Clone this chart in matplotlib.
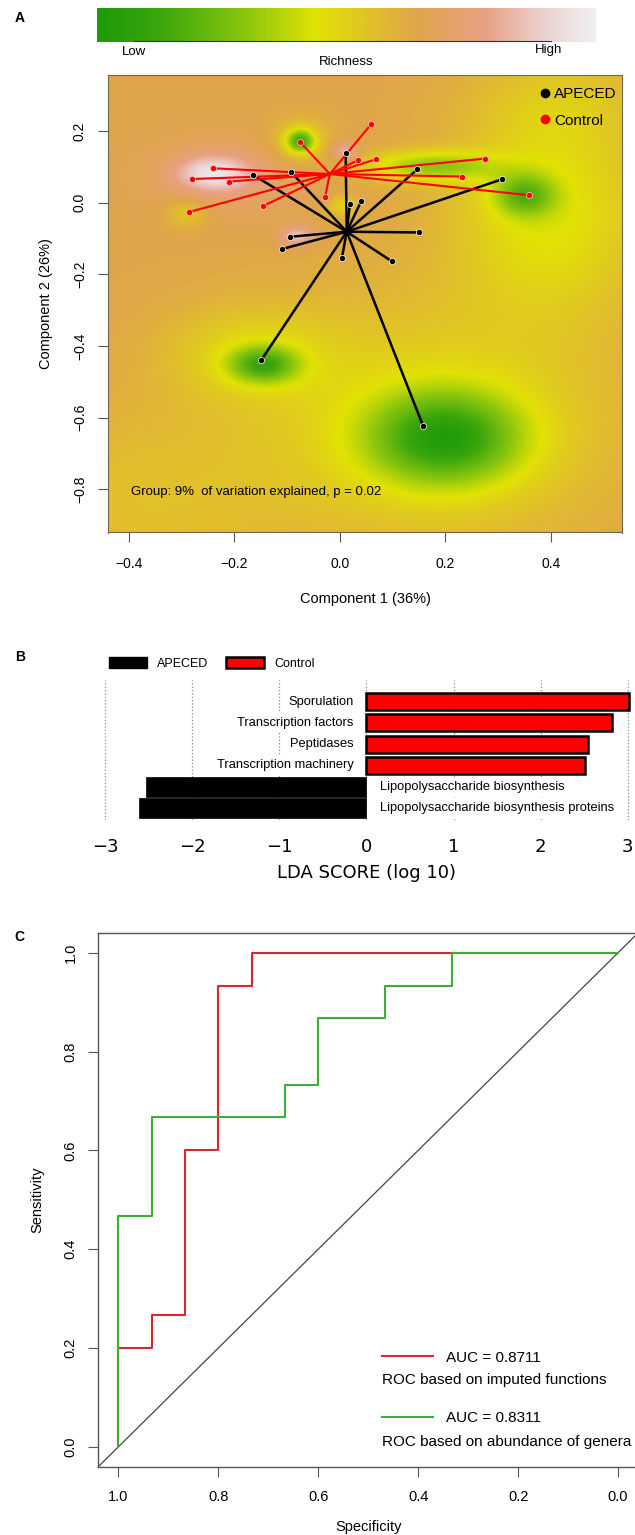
import numpy as np
import matplotlib
matplotlib.use('Agg')
import matplotlib.pyplot as plt
from matplotlib.colors import LinearSegmentedColormap
from matplotlib.lines import Line2D
from matplotlib.patches import Patch

plt.rcParams['font.family'] = ['Liberation Sans', 'DejaVu Sans']

# ---------------- data ----------------
# Panel A: ordination scores (Component 1, Component 2)
apeced_x = [-0.164, 0.011, 0.019, 0.041, 0.147, 0.307, 0.150, -0.094, -0.109, 0.004, 0.099, -0.149, 0.158, -0.093]
apeced_y = [0.077, 0.139, -0.004, 0.006, 0.093, 0.065, -0.083, -0.095, -0.129, -0.153, -0.164, -0.439, -0.623, 0.086]
control_x = [-0.076, -0.240, -0.281, -0.210, -0.286, -0.145, -0.028, 0.035, 0.060, 0.068, 0.275, 0.232, 0.358]
control_y = [0.170, 0.096, 0.066, 0.059, -0.026, -0.009, 0.015, 0.119, 0.220, 0.121, 0.123, 0.073, 0.021]
apeced_centre = (0.013, -0.081)
control_centre = (-0.019, 0.080)

# richness surface behind the points: hot / cold spots (centre, height, spread)
spot_x = [0.20, 0.17, -0.145, -0.17, 0.35, 0.40, 0.17, -0.075, -0.075, -0.24, -0.20, 0.01, -0.08, 0.005, -0.29, -0.40, 0.42]
spot_y = [-0.66, -0.62, -0.455, -0.42, 0.02, -0.03, 0.10, 0.17, 0.17, 0.08, 0.07, 0.14, -0.095, -0.01, -0.03, -0.85, 0.28]
spot_h = [-0.45, -0.17, -0.36, -0.13, -0.30, -0.20, -0.30, -0.40, -0.14, 0.26, 0.08, 0.20, 0.22, -0.15, -0.12, -0.08, -0.08]
spot_wx = [0.10, 0.25, 0.045, 0.11, 0.04, 0.13, 0.09, 0.018, 0.04, 0.05, 0.12, 0.018, 0.025, 0.02, 0.03, 0.20, 0.12]
spot_wy = [0.09, 0.24, 0.035, 0.09, 0.04, 0.20, 0.03, 0.022, 0.045, 0.035, 0.08, 0.02, 0.02, 0.02, 0.03, 0.20, 0.10]
base_richness = 0.64

# Panel B: LEfSe LDA scores
lda_terms = ['Sporulation', 'Transcription factors', 'Peptidases', 'Transcription machinery',
             'Lipopolysaccharide biosynthesis', 'Lipopolysaccharide biosynthesis proteins']
lda_scores = [3.02, 2.82, 2.54, 2.51, -2.53, -2.61]

# Panel C: ROC curves (specificity, sensitivity)
red_spec = [1.0, 1.0, 0.933, 0.933, 0.867, 0.867, 0.8, 0.8, 0.733, 0.733, 0.0]
red_sens = [0.0, 0.2, 0.2, 0.267, 0.267, 0.6, 0.6, 0.933, 0.933, 1.0, 1.0]
green_spec = [1.0, 1.0, 0.933, 0.933, 0.667, 0.667, 0.6, 0.6, 0.467, 0.467, 0.333, 0.333, 0.0]
green_sens = [0.0, 0.467, 0.467, 0.667, 0.667, 0.733, 0.733, 0.867, 0.867, 0.933, 0.933, 1.0, 1.0]
auc_labels = ['AUC = 0.8711', 'AUC = 0.8311']
roc_names = ['ROC based on imputed functions', 'ROC based on abundance of genera']

# ---------------- figure ----------------
W, H = 635, 1535
fig = plt.figure(figsize=(W / 100, H / 100), dpi=100)


def box(l, t, r, b):
    # pixel box -> figure fraction
    return [l / W, 1 - b / H, (r - l) / W, (b - t) / H]


cmap = LinearSegmentedColormap.from_list('richness', [
    (0.0, '#1c9a08'), (0.12, '#3aa60c'), (0.3, '#8cc60e'), (0.44, '#e2e204'),
    (0.54, '#e0c426'), (0.64, '#e0a54a'), (0.78, '#e8a184'), (0.9, '#ecd2d2'), (1.0, '#f0f0f0')])

# colour key
axk = fig.add_axes(box(97, 8, 596, 42))
axk.imshow(np.linspace(0, 1, 256)[None, :], cmap=cmap, aspect='auto', extent=(0, 1, 0, 1))
axk.axis('off')
fig.add_artist(Line2D([134 / W, 551 / W], [1 - 41.3 / H] * 2, color='#333333', lw=0.8))
fig.text(134 / W, 1 - 52 / H, 'Low', ha='center', va='center', fontsize=9.5)
fig.text(549 / W, 1 - 50 / H, 'High', ha='center', va='center', fontsize=9.5)
fig.text(346 / W, 1 - 62 / H, 'Richness', ha='center', va='center', fontsize=9.5)

# ---- panel A
ax = fig.add_axes(box(108.3, 75, 621.7, 532.5))
xlo, xhi, ylo, yhi = -0.4393, 0.5347, -0.92, 0.3562
gx, gy = np.meshgrid(np.linspace(xlo, xhi, 400), np.linspace(ylo, yhi, 400))
surf = np.full(gx.shape, base_richness)
for cx, cy, h, sx, sy in zip(spot_x, spot_y, spot_h, spot_wx, spot_wy):
    surf += h * np.exp(-((gx - cx) ** 2 / (2 * sx ** 2) + (gy - cy) ** 2 / (2 * sy ** 2)))
surf = np.clip(surf, 0, 1)
ax.imshow(surf, extent=(xlo, xhi, ylo, yhi), origin='lower', cmap=cmap, vmin=0, vmax=1,
          aspect='auto', interpolation='bilinear')

for x, y in zip(apeced_x, apeced_y):
    ax.plot([apeced_centre[0], x], [apeced_centre[1], y], color='black', lw=1.8, zorder=2)
for x, y in zip(control_x, control_y):
    ax.plot([control_centre[0], x], [control_centre[1], y], color='#ff0000', lw=1.5, zorder=3)
ax.scatter(apeced_x, apeced_y, s=20, c='black', edgecolors='white', linewidths=0.5, zorder=4)
ax.scatter(control_x, control_y, s=20, c='#ff0000', edgecolors='#ffd0d0', linewidths=0.5, zorder=5)

ax.set_xlim(xlo, xhi)
ax.set_ylim(ylo, yhi)
ax.set_xticks([-0.4, -0.2, 0.0, 0.2, 0.4])
ax.set_yticks([-0.8, -0.6, -0.4, -0.2, 0.0, 0.2])
ax.set_xticklabels(['\u22120.4', '\u22120.2', '0.0', '0.2', '0.4'])
ax.set_yticklabels(['\u22120.8', '\u22120.6', '\u22120.4', '\u22120.2', '0.0', '0.2'], rotation=90, va='center')
ax.tick_params(length=7, width=0.8, color='#555555', labelsize=10)
ax.tick_params(axis='x', pad=10.5)
ax.tick_params(axis='y', pad=8.4)
for s in ax.spines.values():
    s.set_color('#6a6a50')
    s.set_linewidth(0.8)
ax.set_xlabel('Component 1 (36%)', fontsize=10.5, labelpad=15)
ax.set_ylabel('Component 2 (26%)', fontsize=10.5, labelpad=14)
ax.text(0.045, 0.0892, 'Group: 9%  of variation explained, p = 0.02', transform=ax.transAxes,
        va='center', fontsize=9.5)
ax.legend(handles=[Line2D([], [], ls='', marker='o', color='black', ms=6),
                   Line2D([], [], ls='', marker='o', color='#ff0000', ms=6)],
          labels=['APECED', 'Control'], loc='upper left', bbox_to_anchor=(0.841, 0.973),
          frameon=False, borderpad=0, borderaxespad=0, handlelength=0.6, handletextpad=0.3,
          labelspacing=0.8, fontsize=11)

# ---- panel B
axb = fig.add_axes(box(100.8, 680, 632.1, 820))
pos = np.arange(len(lda_terms))[::-1]
for p, term, s in zip(pos, lda_terms, lda_scores):
    if s > 0:
        axb.barh(p, s, height=0.8, color='#ff0000', edgecolor='black', linewidth=1.8, zorder=2)
        axb.text(-0.15, p, term, ha='right', va='center', fontsize=9.3, zorder=3,
                 bbox=dict(boxstyle='square,pad=0.3', fc='white', ec='none'))
    else:
        axb.barh(p, s, height=0.95, color='black', edgecolor='black', linewidth=0.5, zorder=2)
        axb.text(0.15, p, term, ha='left', va='center', fontsize=9.3, zorder=1.5,
                 bbox=dict(boxstyle='square,pad=0.3', fc='white', ec='none'))
axb.set_xlim(-3.05, 3.05)
axb.set_ylim(-0.564, 6.02)
axb.set_xticks(range(-3, 4))
axb.set_yticks([])
axb.grid(axis='x', ls=':', color='#8a8a8a', lw=0.9)
axb.set_axisbelow(True)
for s in axb.spines.values():
    s.set_visible(False)
axb.tick_params(axis='x', length=0, pad=13, labelsize=13, labelfontfamily='DejaVu Sans')
axb.set_xlabel('LDA SCORE (log 10)', fontsize=13, family='DejaVu Sans', labelpad=6)
fig.legend(handles=[Patch(fc='black', ec='black'), Patch(fc='#ff0000', ec='black', lw=1.8)],
           labels=['APECED', 'Control'], ncol=2, loc='center left',
           bbox_to_anchor=(108.5 / W, 1 - 663.3 / H), frameon=False, borderpad=0, borderaxespad=0,
           handlelength=3.05, handleheight=1.06, handletextpad=0.83, columnspacing=1.4, fontsize=9)

# ---- panel C
axc = fig.add_axes(box(98.3, 933, 638, 1466.7))
axc.axline((1, 0), (0, 1), color='#444444', lw=0.9)
axc.plot(red_spec, red_sens, color='#d42a2e', lw=1.5)
axc.plot(green_spec, green_sens, color='#3cb034', lw=1.5)
axc.set_xlim(1.04, -0.04)
axc.set_ylim(-0.04, 1.04)
ticks = [0.0, 0.2, 0.4, 0.6, 0.8, 1.0]
axc.set_xticks(ticks)
axc.set_yticks(ticks)
axc.set_xticklabels(['%.1f' % t for t in ticks])
axc.set_yticklabels(['%.1f' % t for t in ticks], rotation=90, va='center')
axc.tick_params(length=7, width=0.8, color='#555555', labelsize=10.5)
axc.tick_params(axis='x', pad=9.6)
axc.tick_params(axis='y', pad=8)
for s in axc.spines.values():
    s.set_color('#555555')
    s.set_linewidth(1.0)
axc.set_xlabel('Specificity', fontsize=10.5, labelpad=12)
axc.set_ylabel('Sensitivity', fontsize=10.5, labelpad=14)
axc.legend(handles=[Line2D([], [], color='#d42a2e', lw=1.5), Line2D([], [], color='#3cb034', lw=1.5)],
           labels=auc_labels, loc='upper left', bbox_to_anchor=(0.5251, 0.2172),
           frameon=False, borderpad=0, borderaxespad=0, handlelength=3.37, handletextpad=0.83,
           labelspacing=3.05, fontsize=11)
axc.text(0.5251, 0.1625, roc_names[0], transform=axc.transAxes, va='center', fontsize=11)
axc.text(0.5251, 0.0468, roc_names[1], transform=axc.transAxes, va='center', fontsize=11)

# panel letters
for letter, x, y in [('A', 20, 18), ('B', 20, 657), ('C', 19.4, 937)]:
    fig.text(x / W, 1 - y / H, letter, ha='center', va='center', fontsize=10, fontweight='bold')

fig.savefig('out.png', dpi=100)
